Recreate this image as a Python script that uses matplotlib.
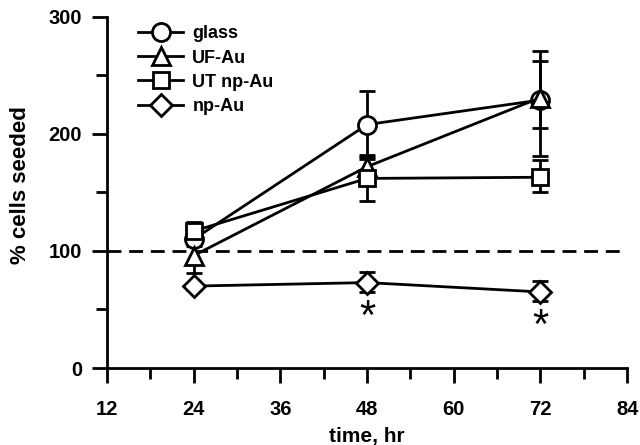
import matplotlib
matplotlib.use("Agg")
import matplotlib.pyplot as plt
from matplotlib.ticker import MultipleLocator

plt.rcParams['font.family'] = ['Liberation Sans', 'DejaVu Sans']
plt.rcParams['font.weight'] = 'bold'

# time points (hr)
hours = [24, 48, 72]

# % cells seeded, with lower / upper error
glass = [110, 208, 229]
glass_lo = [6, 29, 24]
glass_hi = [6, 29, 33]

uf_au = [96, 172, 231]
uf_au_lo = [15, 10, 50]
uf_au_hi = [15, 10, 40]

ut_np_au = [117, 162, 163]
ut_np_au_lo = [8, 19, 13]
ut_np_au_hi = [8, 18, 15]

np_au = [70, 73, 65]
np_au_lo = [3, 8, 8]
np_au_hi = [3, 9, 9]

series = [
    ("glass", glass, glass_lo, glass_hi, "o"),
    ("UF-Au", uf_au, uf_au_lo, uf_au_hi, "^"),
    ("UT np-Au", ut_np_au, ut_np_au_lo, ut_np_au_hi, "s"),
    ("np-Au", np_au, np_au_lo, np_au_hi, "D"),
]
marker_sizes = {"o": 13, "^": 13, "s": 12, "D": 11}

# significance marks
star_x = [48, 72]
star_y = [43, 35]

LW = 2.0

fig = plt.figure(figsize=(6.4, 4.45), dpi=100)
ax = fig.add_axes([0.167, 0.173, 0.813, 0.789])

ax.axhline(100, color='black', lw=LW, ls=(0, (5, 2.8)), zorder=1)

handles = []
for label, vals, lo, hi, mk in series:
    cont = ax.errorbar(hours, vals, yerr=[lo, hi], color='black', lw=LW,
                       marker=mk, markersize=marker_sizes[mk],
                       markerfacecolor='white', markeredgecolor='black',
                       markeredgewidth=LW, capsize=5.5, capthick=LW,
                       elinewidth=LW, label=label, zorder=3)
    handles.append(cont.lines[0])

for sx, sy in zip(star_x, star_y):
    ax.text(sx, sy, "*", ha='center', va='center', fontsize=30,
            fontweight='normal')

ax.set_xlim(12, 84)
ax.set_ylim(0, 300)
ax.xaxis.set_major_locator(MultipleLocator(12))
ax.xaxis.set_minor_locator(MultipleLocator(6))
ax.yaxis.set_major_locator(MultipleLocator(100))
ax.yaxis.set_minor_locator(MultipleLocator(50))

for side in ['top', 'right']:
    ax.spines[side].set_visible(False)
for side in ['left', 'bottom']:
    ax.spines[side].set_linewidth(LW)

ax.tick_params(which='major', length=11, width=LW, labelsize=14.5)
ax.tick_params(axis='x', which='major', pad=12)
ax.tick_params(axis='y', which='major', pad=7)
ax.tick_params(which='minor', length=8, width=LW)
for lbl in ax.get_xticklabels() + ax.get_yticklabels():
    lbl.set_fontweight('bold')

ax.set_xlabel("time, hr", fontsize=15, fontweight='bold', labelpad=6)
ax.set_ylabel("% cells seeded", fontsize=16, fontweight='bold')
ax.yaxis.set_label_coords(-0.145, 0.52)

leg = ax.legend(handles, [s[0] for s in series], loc='upper left',
                bbox_to_anchor=(0.06, 0.976), frameon=False,
                fontsize=13, handlelength=2.5, labelspacing=0.4,
                handletextpad=0.5, borderaxespad=0, borderpad=0)
for t in leg.get_texts():
    t.set_fontweight('bold')

fig.savefig("out.png", dpi=100)
